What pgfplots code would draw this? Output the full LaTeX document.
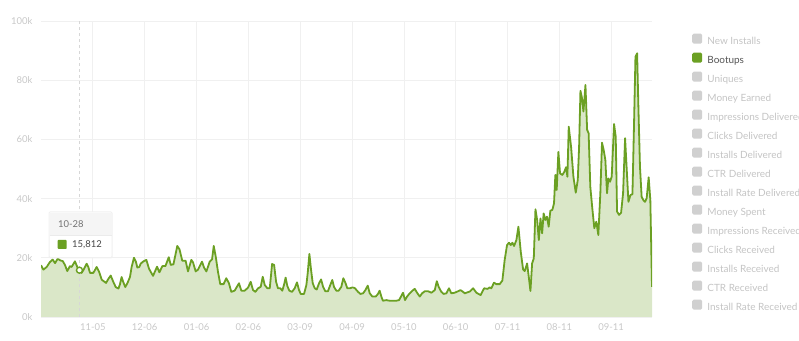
\documentclass[border=0pt]{standalone}
\usepackage{pgfplots}
\usepackage{pgfplotstable}
\usepackage{fontspec}
\setmainfont{Lato}
\pgfplotsset{compat=1.18}
\definecolor{linegreen}{RGB}{107,160,35}
\definecolor{fillgreen}{RGB}{218,231,200}
\definecolor{gridgray}{RGB}{240,240,240}
\definecolor{tickgray}{RGB}{200,200,200}
\definecolor{crossgray}{RGB}{215,215,215}
\definecolor{sqgray}{RGB}{208,208,208}
\definecolor{lgtext}{RGB}{196,196,196}
\definecolor{darktext}{RGB}{85,85,85}

\pgfplotstableread{
x y
0 17.5
1.4 16.0
3.4 16.9
5.4 18.6
7 19.4
8.4 18.2
10 19.7
11.6 19.1
13 18.9
14.4 17.5
15.7 15.5
17.3 17.2
18.3 16.9
20.3 18.8
21.7 16.9
23 15.8
24.3 14.9
25.5 16.0
27.3 18.0
28.3 16.9
29.3 14.9
31.3 14.9
33.3 16.9
34.8 15.2
36.3 12.6
38.9 11.5
40.3 12.9
41.7 14.0
43.3 11.8
44.7 10.1
46.3 9.6
47.2 11.0
48.2 13.5
49.2 11.8
50.4 10.1
51.8 11.6
53.2 13.5
54.2 16.9
55.6 20.0
56.8 18.6
57.6 16.7
58.8 16.9
59.6 18.0
61 18.7
63 19.3
64.6 16.3
67 13.9
69.4 17.0
70.8 15.1
72.6 17.2
74.4 17.2
76.4 20.2
77.6 17.6
79.2 17.8
81.5 24.0
82.8 22.9
84.5 19.0
86.5 19.0
87.9 15.4
89.9 19.3
90.9 18.5
92.5 15.4
93.9 16.0
96.3 18.7
97.5 16.7
98.9 15.4
100.9 18.7
102.3 19.5
103.3 24.0
104.5 20.4
105.8 15.4
107.2 11.1
109.2 11.1
110.8 13.1
112.4 11.4
113.8 8.5
115.8 8.9
118.4 11.4
119.8 8.9
121.8 8.9
123.8 9.9
125.4 11.9
126.8 9.1
128.2 8.5
129.8 9.7
131.4 10.2
132.6 13.6
133.8 10.8
135.4 9.7
136.8 9.7
138.2 17.9
139.4 17.6
140.6 11.9
141.7 9.7
143.1 9.7
144.3 8.9
145.3 10.8
146.3 13.3
147.3 10.5
148.5 8.9
150.1 8.5
151.7 9.7
153.1 11.7
154.3 9.1
155.3 7.8
157.3 7.8
158.7 10.8
159.5 14.8
160.5 21.3
161.5 15.9
162.5 11.4
163.7 9.7
164.9 9.3
166.3 11.4
167.5 12.7
168.7 10.2
170.0 8.7
171.6 8.7
173.0 10.8
174.2 12.5
175.2 10.2
176.6 8.9
178.0 8.9
179.6 10.2
180.8 13.1
182.0 11.6
183.2 9.7
184.8 9.7
186.2 10.0
187.6 9.8
189.6 8.5
191.0 7.8
192.6 8.0
194.0 9.1
195.4 10.6
196.6 8.0
198.2 6.9
200.2 6.9
201.5 7.8
202.5 8.9
203.7 6.6
204.5 5.5
206.5 5.7
208.5 5.5
210.5 5.5
212.5 5.5
214.1 5.7
215.3 6.9
216.5 8.2
217.7 5.7
218.9 6.9
220.5 8.0
222.1 8.9
223.5 9.5
224.9 8.2
226.5 6.9
227.9 8.0
229.5 8.7
231.5 8.7
233.5 8.2
235.5 9.1
236.7 12.1
237.8 10.2
239.4 8.5
240.8 7.8
242.4 8.0
244.0 9.7
245.4 8.0
247.4 8.2
249.4 8.7
250.8 9.1
252.4 8.5
253.4 8.0
256.4 8.6
258.4 9.7
260.4 8.2
262.9 7.4
265 9.7
267 9.5
268.3 10.0
269.3 9.7
270.9 11.6
272.3 11.1
274.3 11.1
275.9 12.3
277.3 19.3
278.7 24.3
279.9 25.1
280.9 24.3
281.9 25.1
282.9 24.0
284.3 26.0
285.5 30.5
286.9 22.1
288.3 16.1
289.3 15.5
290.7 18.1
291.7 13.6
292.7 8.8
293.7 18.1
294.7 19.8
295.7 36.4
296.7 32.8
297.7 26.0
298.7 33.3
299.7 28.3
300.6 35.0
301.6 32.8
302.6 33.9
303.6 30.5
304.6 35.9
305.8 36.2
306.8 38.4
307.6 48.0
308.4 42.9
309.4 55.8
310.4 48.5
311.8 48.0
313 49.1
314 50.6
314.8 47.4
315.6 64.3
317 57.5
318.4 47.4
319.8 42.0
321 46.3
321.8 57.5
322.6 76.4
323.4 74.4
324.4 69.4
325.6 78.4
326.6 63.2
327.5 62.1
328.5 44.0
329.7 36.7
330.9 30.0
332.1 32.2
333.3 27.7
334.5 41.8
335.5 58.9
336.5 56.4
337.5 53.0
338.5 41.8
339.3 46.8
340.3 45.7
341.3 47.4
342.7 65.2
343.7 60.9
344.5 35.6
345.7 34.5
346.9 35.2
348.1 41.8
349.3 60.4
350.3 49.7
351.3 38.9
352.5 41.2
353.7 41.5
354.7 66.5
355.5 87.9
356.5 89.1
357.2 72.2
358.2 50.8
359.2 40.6
360.2 39.5
361.2 38.9
362.2 40.1
363.4 47.2
364.4 39.5
365.4 10.2
}\bootups

\begin{document}
\begin{tikzpicture}[font=\fontsize{9.5}{11}\selectfont]
\begin{axis}[
  at={(41bp,24bp)}, anchor=south west,
  scale only axis, width=611bp, height=296bp,
  xmin=0, xmax=365.4, ymin=0, ymax=100,
  axis line style={draw=none},
  major tick length=0pt,
  xtick={31,62,93,124,155,186,217,248,279,310,341},
  xticklabels={11-05,12-06,01-06,02-06,03-09,04-09,05-10,06-10,07-11,08-11,09-11},
  ytick={0,20,40,60,80,100},
  yticklabels={0k,20k,40k,60k,80k,100k},
  xticklabel style={text=tickgray, yshift=-3bp},
  yticklabel style={text=tickgray, xshift=-5bp},
  grid=major,
  major grid style={draw=gridgray, line width=0.7bp},
  legend style={at={(1.0655,0.958)}, anchor=north west, draw=none, fill=none,
    inner sep=0pt, row sep=6.0bp, text=lgtext,
    nodes={inner sep=0pt, text height=7bp, text depth=2bp, font=\fontsize{10}{11}\selectfont}},
  legend cell align=left,
  sq/.style={legend image code/.code={\fill[rounded corners=1.5bp,##1, draw=none] (0bp,-1.5bp) rectangle (10bp,8.5bp); \path (15bp,0bp);}},
]
\addplot[fill=fillgreen, draw=none, forget plot] table {\bootups} \closedcycle;
\draw[dashed, crossgray, line width=0.6bp] (axis cs:23,0) -- (axis cs:23,100);
\addplot[draw=linegreen, line width=1.8bp, line join=round, forget plot] table {\bootups};
\addplot[only marks, mark=*, mark size=3bp, mark options={fill=white, draw=linegreen, line width=1.4bp}, forget plot] coordinates {(23,15.812)};

\addlegendimage{sq, fill=sqgray}\addlegendentry{New Installs}
\addlegendimage{sq, fill=linegreen}\addlegendentry[text=darktext]{Bootups}
\addlegendimage{sq, fill=sqgray}\addlegendentry{Uniques}
\addlegendimage{sq, fill=sqgray}\addlegendentry{Money Earned}
\addlegendimage{sq, fill=sqgray}\addlegendentry{Impressions Delivered}
\addlegendimage{sq, fill=sqgray}\addlegendentry{Clicks Delivered}
\addlegendimage{sq, fill=sqgray}\addlegendentry{Installs Delivered}
\addlegendimage{sq, fill=sqgray}\addlegendentry{CTR Delivered}
\addlegendimage{sq, fill=sqgray}\addlegendentry{Install Rate Delivered}
\addlegendimage{sq, fill=sqgray}\addlegendentry{Money Spent}
\addlegendimage{sq, fill=sqgray}\addlegendentry{Impressions Received}
\addlegendimage{sq, fill=sqgray}\addlegendentry{Clicks Received}
\addlegendimage{sq, fill=sqgray}\addlegendentry{Installs Received}
\addlegendimage{sq, fill=sqgray}\addlegendentry{CTR Received}
\addlegendimage{sq, fill=sqgray}\addlegendentry{Install Rate Received}
\end{axis}
% tooltip
\fill[black!6, rounded corners=1.5bp] (48.5bp,82.5bp) rectangle (112.5bp,129.5bp);
\fill[white, rounded corners=1bp] (49.5bp,84bp) rectangle (111.5bp,128.5bp);
\fill[black!4] (49.5bp,106bp) rectangle (111.5bp,127.5bp);
\draw[black!8, line width=0.5bp] (49.5bp,106bp) -- (111.5bp,106bp);
\node[anchor=west, inner sep=0pt, text=black!55] at (58bp,117bp) {10-28};
\fill[linegreen, rounded corners=0.8bp] (57.7bp,92bp) rectangle (66.7bp,101bp);
\node[anchor=west, inner sep=0pt, text=black!72] at (72bp,96.5bp) {15,812};
\pgfresetboundingbox
\path[use as bounding box] (0,0) rectangle (799bp,341bp);
\end{tikzpicture}
\end{document}
